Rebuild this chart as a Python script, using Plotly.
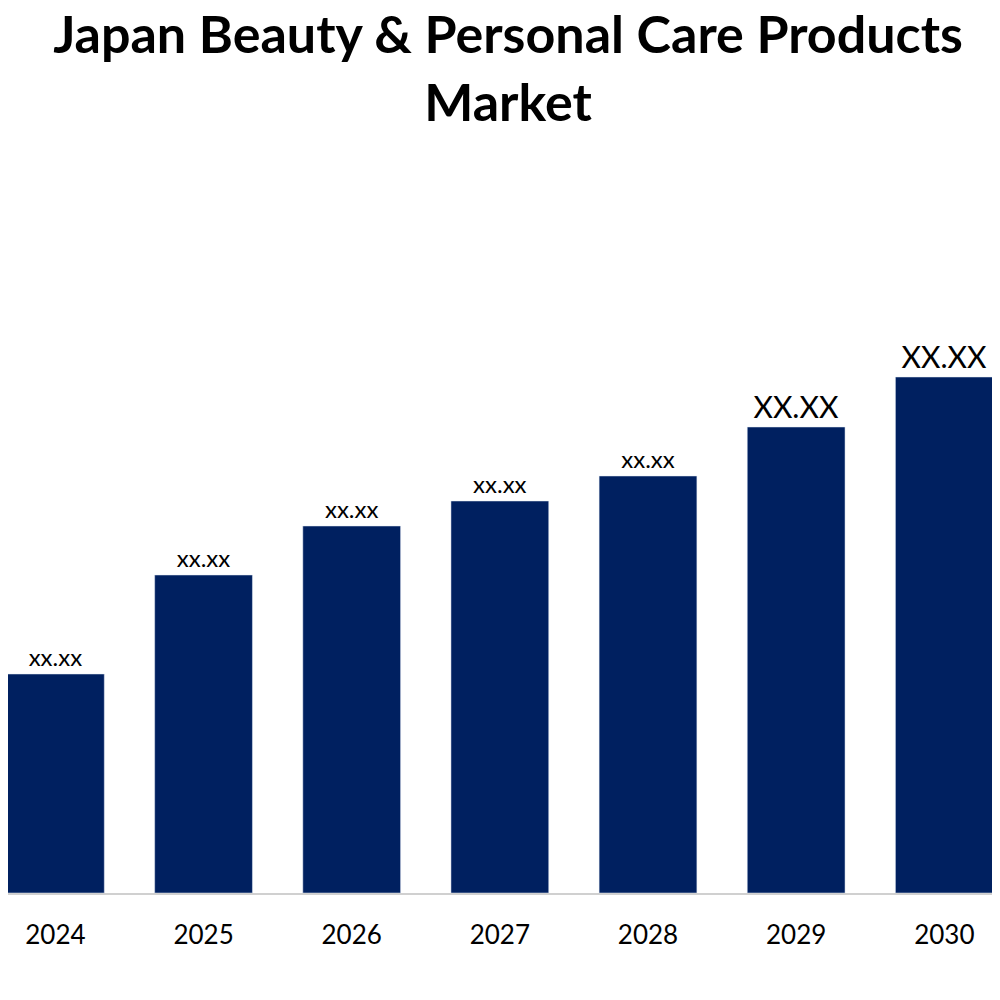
import plotly.graph_objects as go

years = ["2024", "2025", "2026", "2027", "2028", "2029", "2030"]
values = [219, 318, 367, 392, 417, 466, 516]
labels = ["xx.xx", "xx.xx", "xx.xx", "xx.xx", "xx.xx", "XX.XX", "XX.XX"]
label_sizes = [24, 24, 24, 24, 24, 30, 30]

fig = go.Figure(go.Bar(
    x=years, y=values, marker_color="#002060", width=0.66,
    text=labels, textposition="outside", cliponaxis=False,
    outsidetextfont=dict(size=label_sizes, color="black", family="Lato"),
))
fig.update_layout(
    width=1000, height=1000, plot_bgcolor="white", paper_bgcolor="white",
    margin=dict(l=0, r=0, t=250, b=115),
    showlegend=False, uniformtext=dict(mode=False),
    title=dict(text="Japan Beauty & Personal Care Products<br>Market",
               x=0.5, xanchor="center", y=0.955, yanchor="top", yref="container",
               pad=dict(t=0),
               font=dict(family="Lato", size=52, color="black", weight="bold")),
)
fig.update_xaxes(range=[-0.32, 6.43], showline=True, linecolor="#d0d0d0", linewidth=2,
                 tickfont=dict(size=26, family="Lato", color="black"), ticks="",
                 ticklabelstandoff=18)
fig.update_yaxes(range=[0, 635], visible=False, showgrid=False)
fig.write_html("out.html")
